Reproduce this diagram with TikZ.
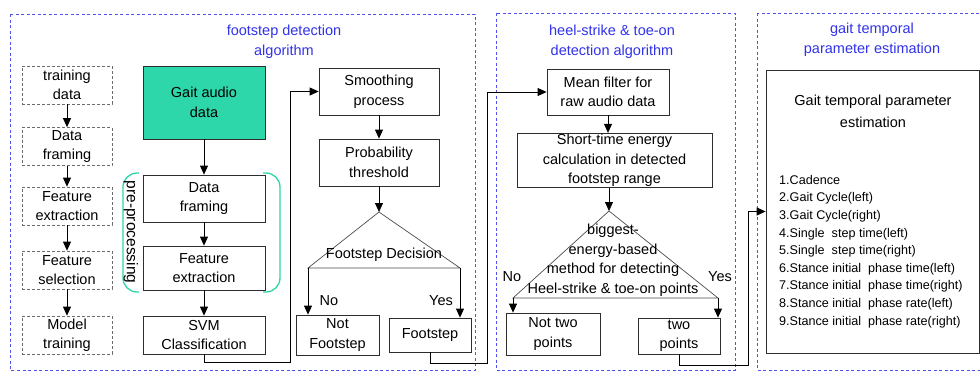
\documentclass[tikz,border=0pt]{standalone}
\usepackage{fontspec}
\setmainfont{Liberation Sans}
\usetikzlibrary{arrows.meta,calc}
\definecolor{tealbox}{RGB}{45,215,170}
\definecolor{tblue}{RGB}{50,50,235}
\definecolor{lc}{RGB}{45,45,45}
\begin{document}
\begin{tikzpicture}[x=1pt,y=-1pt,
 font=\fontsize{14.5}{19.5}\selectfont,
 box/.style={draw=lc, line width=0.8pt, align=center, inner sep=1pt},
 dbox/.style={draw=gray!85!black, dash pattern=on 3pt off 2pt, line width=0.7pt, align=center, inner sep=1pt, minimum width=90pt, minimum height=38pt},
 outer/.style={draw=tblue!85, dash pattern=on 3pt off 2.5pt, line width=0.7pt},
 ttl/.style={text=tblue, align=center},
 arr/.style={draw=black, line width=0.8pt, -{Triangle[length=9pt,width=8pt]}},
 tri/.style={draw=gray!60!black, line width=0.7pt}]
\path[use as bounding box] (0,0) rectangle (980,372);
\clip (0,0) rectangle (980,372);
\fill[white] (0,0) rectangle (980,372);

% outer dashed frames
\draw[outer] (10,14) rectangle (475,370);
\draw[outer] (496,13) rectangle (735,370);
\draw[outer] (757,13) rectangle (995,370);

% titles
\node[ttl] (t1) at (284,42) {footstep detection\\algorithm};
\node[ttl] (t2) at (612,42) {heel-strike \& toe-on\\detection algorithm};
\node[ttl] (t3) at (872,40) {gait temporal\\parameter estimation};

% training column
\node[dbox] (tr) at (67,85) {training\\data};
\node[dbox] (dfl) at (67,146.5) {Data\\framing};
\node[dbox] (fel) at (67,206) {Feature\\extraction};
\node[dbox] (fsl) at (67,270) {Feature\\selection};
\node[dbox] (mt) at (67,335) {Model\\training};
\draw[arr] (tr) -- (dfl);
\draw[arr] (dfl) -- (fel);
\draw[arr] (fel) -- (fsl);
\draw[arr] (fsl) -- (mt);

% main column
\node[box, fill=tealbox, minimum width=122pt, minimum height=73pt] (gad) at (204,102.5) {Gait audio\\data};
\node[box, minimum width=122pt, minimum height=47pt] (df) at (204,198.5) {Data\\framing};
\node[box, minimum width=122pt, minimum height=44pt] (fe) at (204,268) {Feature\\extraction};
\node[box, minimum width=122pt, minimum height=38pt] (svm) at (204,335) {SVM\\Classification};
\draw[arr] (gad) -- (df);
\draw[arr] (df) -- (fe);
\draw[arr] (fe) -- (svm);

% pre-processing brackets
\draw[tealbox, line width=1.3pt, rounded corners=14pt] (139,173) -- (123,173) -- (123,292) -- (139,292);
\draw[tealbox, line width=1.3pt, rounded corners=14pt] (263,173) -- (280,173) -- (280,292) -- (263,292);
\node[rotate=-90, inner sep=0pt, font=\fontsize{15.5}{18}\selectfont] (pp) at (131,232) {pre-processing};

% footstep column
\node[box, minimum width=120pt, minimum height=47pt] (sm) at (379,91.5) {Smoothing\\process};
\node[box, minimum width=120pt, minimum height=47pt] (pt) at (379,162.5) {Probability\\threshold};
\draw[arr] (sm) -- (pt);
\coordinate (d1t) at (379,212);
\coordinate (d1l) at (308,268);
\coordinate (d1r) at (460,268);
\draw[tri] (d1l) -- (d1t) -- (d1r) -- cycle;
\node (fd) at (384,255) {Footstep Decision};
\draw[arr] (pt) -- (d1t);
\node[box, minimum width=83pt, minimum height=40pt] (nf) at (337.5,335) {Not\\Footstep};
\node[box, minimum width=82pt, minimum height=34pt] (fs) at (430,335) {Footstep};
\draw[arr] (d1l) -- (d1l |- nf.north);
\draw[arr] (d1r) -- (d1r |- fs.north);
\node (no1) at (329,301) {No};
\node (yes1) at (441,301) {Yes};

\coordinate (c1) at (290,362);
\draw[arr] (svm.south) |- (c1) |- (sm.west);

% heel-strike column
\node[box, minimum width=122pt, minimum height=46pt] (mf) at (608,92) {Mean filter for\\raw audio data};
\node[box, minimum width=195pt, minimum height=51pt] (st) at (614.5,160.5) {Short-time energy\\calculation in detected\\footstep range};
\draw[arr] (mf.south) -- (mf.south |- st.north);
\coordinate (d2t) at (609,211);
\coordinate (d2l) at (513,298);
\coordinate (d2r) at (718,298);
\draw[tri] (d2l) -- (d2t) -- (d2r) -- cycle;
\draw[arr] (d2t |- st.south) -- (d2t);
\node[align=center] (bm) at (613,260) {biggest-\\energy-based\\method for detecting\\Heel-strike \& toe-on points};
\node (no2) at (512,277) {No};
\node (yes2) at (720,277) {Yes};
\node[box, minimum width=94pt, minimum height=42pt] (ntp) at (553,334) {Not two\\points};
\node[box, minimum width=82pt, minimum height=36pt] (tp) at (679,336) {two\\points};
\draw[arr] (d2l) -- (d2l |- ntp.north);
\draw[arr] (d2r) -- (d2r |- tp.north);

\coordinate (c2) at (487,363);
\draw[arr] (fs.south) |- (c2) |- (mf.west);

% gait temporal parameter estimation
\node[box, minimum width=213pt, minimum height=283pt] (gt) at (872.5,211.5) {};
\node[align=center, font=\fontsize{14.5}{22.5}\selectfont] (gtt) at (873,111.5) {Gait temporal parameter\\estimation};
\node[anchor=north west, align=left, inner sep=0pt, font=\fontsize{12.6}{17.6}\selectfont] (lst) at (779,175) {1.Cadence\\2.Gait Cycle(left)\\3.Gait Cycle(right)\\4.Single\ \ step time(left)\\5.Single\ \ step time(right)\\6.Stance initial\ \ phase time(left)\\7.Stance initial\ \ phase time(right)\\8.Stance initial\ \ phase rate(left)\\9.Stance initial\ \ phase rate(right)};

\coordinate (c3) at (748,365);
\draw[arr] (tp.south) |- (c3) |- (gt.west);
\end{tikzpicture}
\end{document}
